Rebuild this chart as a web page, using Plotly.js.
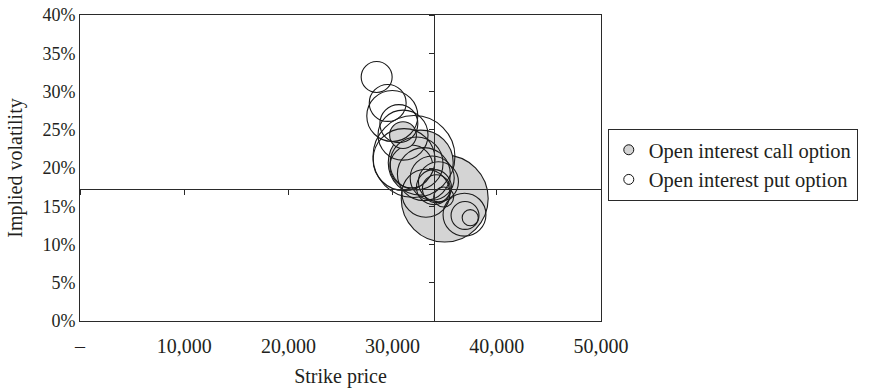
<!DOCTYPE html>
<html>
<head>
<meta charset="utf-8">
<script src="https://cdn.plot.ly/plotly-3.0.1.min.js"></script>
<style>html,body{margin:0;padding:0;background:#fff;}#chart{width:870px;height:391px;}</style>
</head>
<body>
<div id="chart"></div>
<script>
// ---- Data ----
const callStrike = [35000, 32700, 31800, 34400, 31000, 37450];
const callVol    = [0.160, 0.207, 0.202, 0.182, 0.243, 0.135];
const callOI     = [37800, 21100, 9200, 8000, 3600, 1300];

const putStrike = [28470, 29530, 29970, 30600, 31000, 32050, 31100, 32300, 33000, 33800, 33970, 34200, 34900, 36900, 36950, 33200];
const putVol    = [0.319, 0.285, 0.268, 0.258, 0.243, 0.215, 0.211, 0.206, 0.192, 0.187, 0.175, 0.173, 0.162, 0.139, 0.138, 0.167];
const putOI     = [4800, 6800, 13000, 7200, 12500, 33600, 19200, 14000, 14000, 9700, 6100, 3900, 2000, 9200, 3900, 11500];

const seriesNames = ['Open interest call option', 'Open interest put option'];
const xTickVals = [0, 10000, 20000, 30000, 40000, 50000];
const xTickText = ['–', '10,000', '20,000', '30,000', '40,000', '50,000'];
const crossX = 34000;   // where the vertical axis crosses
const crossY = 0.172;   // where the horizontal axis crosses

const txt = '#231f20';
const lineCol = '#2a2a2a';
const callFill = '#d4d4d4';
const fontFam = '"Liberation Serif", "Times New Roman", serif';
const xRange = [0, 50000], yRange = [0, 0.4];

const traces = [
  {
    type: 'scatter', mode: 'markers', name: seriesNames[0], showlegend: false,
    x: callStrike, y: callVol,
    marker: { size: callOI, sizemode: 'area', sizeref: 10, color: callFill,
              line: { color: '#1a1a1a', width: 1.1 }, opacity: 1 },
    hoverinfo: 'skip'
  },
  {
    type: 'scatter', mode: 'markers', name: seriesNames[1], showlegend: false,
    x: putStrike, y: putVol,
    marker: { size: putOI, sizemode: 'area', sizeref: 10, color: 'rgba(255,255,255,0)',
              line: { color: '#1a1a1a', width: 1.1 }, opacity: 1 },
    hoverinfo: 'skip'
  },
  // legend entries
  { type: 'scatter', mode: 'markers', name: seriesNames[0], x: [null], y: [null],
    marker: { size: 10, color: callFill, line: { color: '#111', width: 1 } }, hoverinfo: 'skip' },
  { type: 'scatter', mode: 'markers', name: seriesNames[1], x: [null], y: [null],
    marker: { size: 10, color: '#fff', line: { color: '#111', width: 1 } }, hoverinfo: 'skip' },
  // crossing axes carriers
  { type: 'scatter', mode: 'markers', x: [null], y: [null], xaxis: 'x2', yaxis: 'y', showlegend: false, hoverinfo: 'skip' },
  { type: 'scatter', mode: 'markers', x: [null], y: [null], xaxis: 'x', yaxis: 'y2', showlegend: false, hoverinfo: 'skip' }
];

const layout = {
  width: 870, height: 391,
  margin: { l: 80, r: 269, t: 15, b: 70 },
  paper_bgcolor: '#fff', plot_bgcolor: '#fff',
  font: { family: fontFam, color: txt, size: 18 },
  showlegend: true,
  legend: {
    x: 1.013, xanchor: 'left', y: 0.51, yanchor: 'middle',
    bordercolor: lineCol, borderwidth: 1, bgcolor: '#fff',
    font: { family: fontFam, size: 20.5, color: txt },
    itemwidth: 30, traceorder: 'normal'
  },
  xaxis: {
    range: xRange, domain: [0, 1],
    tickvals: xTickVals, ticktext: xTickText, ticks: '', ticklabelstandoff: 7,
    showline: true, mirror: true, linecolor: lineCol, linewidth: 1,
    showgrid: false, zeroline: false,
    tickfont: { family: fontFam, size: 20, color: txt },
    title: { text: 'Strike price', font: { family: fontFam, size: 20, color: txt }, standoff: 12 }
  },
  yaxis: {
    range: yRange, domain: [0, 1],
    dtick: 0.05, tickformat: '.0%', ticks: '',
    showline: true, mirror: true, linecolor: lineCol, linewidth: 1,
    showgrid: false, zeroline: false,
    tickfont: { family: fontFam, size: 18, color: txt },
    title: { text: 'Implied volatility', font: { family: fontFam, size: 20, color: txt }, standoff: 14 }
  },
  xaxis2: {
    overlaying: 'x', anchor: 'free', position: crossY / yRange[1], side: 'bottom',
    range: xRange, tickvals: xTickVals, ticks: 'outside', ticklen: 5, tickcolor: lineCol,
    showticklabels: false, showline: true, linecolor: lineCol, linewidth: 1,
    showgrid: false, zeroline: false
  },
  yaxis2: {
    overlaying: 'y', anchor: 'free', position: crossX / xRange[1], side: 'left',
    range: yRange, dtick: 0.05, ticks: 'outside', ticklen: 5, tickcolor: lineCol,
    showticklabels: false, showline: true, linecolor: lineCol, linewidth: 1,
    showgrid: false, zeroline: false
  }
};

Plotly.newPlot('chart', traces, layout, { staticPlot: true, displayModeBar: false });
</script>
</body>
</html>
